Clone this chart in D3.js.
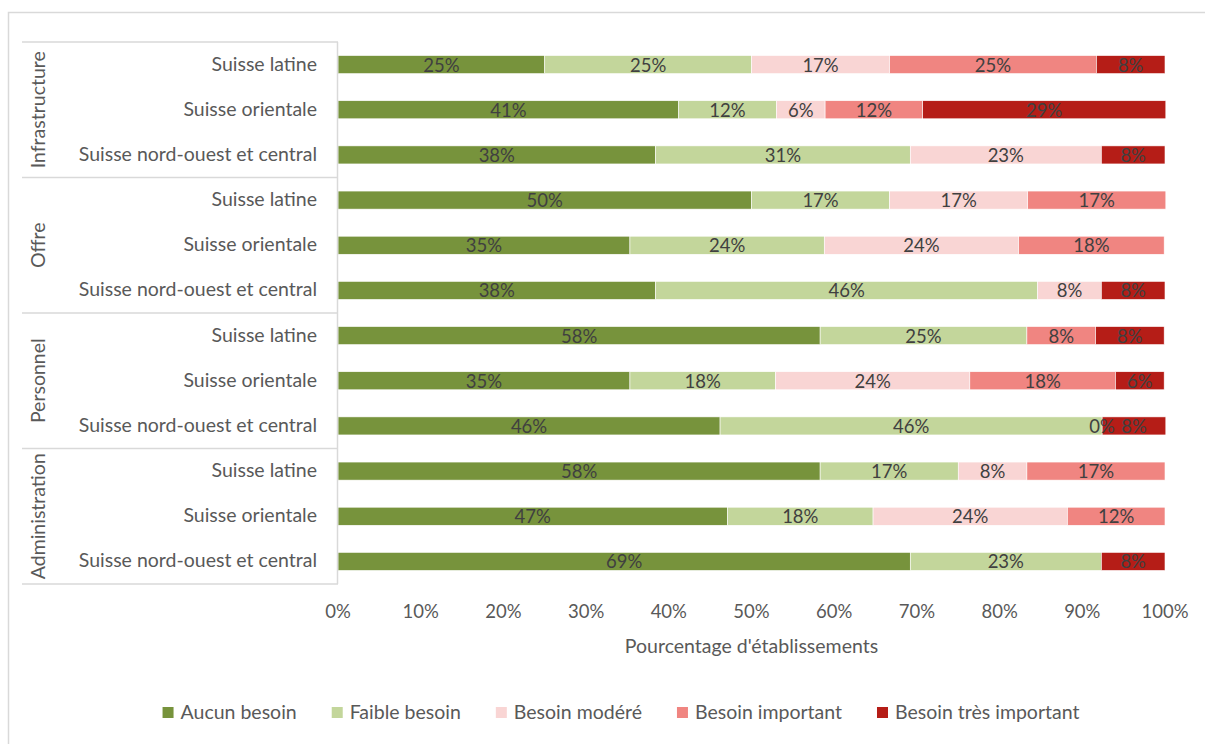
<!DOCTYPE html>
<html>
<head>
<meta charset="utf-8">
<script src="https://cdn.jsdelivr.net/npm/d3@7"></script>
<style>
  body { margin: 0; background: #fff; }
  svg { display: block; font-family: Lato, "Open Sans", sans-serif; }
</style>
</head>
<body>
<svg id="chart" width="1205" height="744"></svg>
<script>
// groups (top to bottom) and regions inside each group
var groups = ["Infrastructure", "Offre", "Personnel", "Administration"];
var regions = ["Suisse latine", "Suisse orientale", "Suisse nord-ouest et central"];
var series = ["Aucun besoin", "Faible besoin", "Besoin modéré", "Besoin important", "Besoin très important"];
var colors = ["#77933c", "#c3d69b", "#f9d5d4", "#f08581", "#b51d17"];

// percentages per row, one array per series (row order: group x region)
var aucun     = [25.0, 41.2, 38.4, 50.0, 35.3, 38.4, 58.3, 35.3, 46.2, 58.3, 47.1, 69.2];
var faible    = [25.0, 11.8, 30.8, 16.7, 23.5, 46.2, 25.0, 17.6, 46.2, 16.7, 17.6, 23.1];
var modere    = [16.7,  5.9, 23.1, 16.7, 23.5,  7.7, null, 23.5,  0.0,  8.3, 23.5, null];
var important = [25.0, 11.8, null, 16.7, 17.6, null,  8.3, 17.6, null, 16.7, 11.8, null];
var tresImp   = [ 8.3, 29.4,  7.7, null, null,  7.7,  8.3,  5.9,  7.7, null, null,  7.7];
var xTicks = [0, 10, 20, 30, 40, 50, 60, 70, 80, 90, 100];

var seriesValues = [aucun, faible, modere, important, tresImp];

var rows = [];
groups.forEach(function (g, gi) {
  regions.forEach(function (r, ri) {
    rows.push({ id: gi * 3 + ri, group: g, region: r });
  });
});

var svg = d3.select("#chart");
var textCol = "#595959";
var labelCol = "#404040";
var lineCol = "#d9d9d9";

// chart area border
svg.append("rect")
  .attr("x", 8.5).attr("y", 12.5)
  .attr("width", 1210).attr("height", 760)
  .attr("fill", "none").attr("stroke", lineCol).attr("stroke-width", 1.5);

var padding = { top: 42, left: 338, right: 40, bottom: 160 };
var plotW = 1165 - padding.left;
var plotH = 584 - padding.top;

var x = d3.scaleLinear().domain([0, 100]).range([padding.left, padding.left + plotW]);
var y = d3.scaleBand()
  .domain(rows.map(function (d) { return d.id; }))
  .range([padding.top, padding.top + plotH])
  .paddingInner(0.6).paddingOuter(0.3);

// stacked segments
var segs = [];
rows.forEach(function (row) {
  var acc = 0;
  seriesValues.forEach(function (vals, si) {
    var v = vals[row.id];
    if (v !== null) {
      segs.push({ row: row.id, s: si, x0: acc, x1: acc + v, v: v });
      acc += v;
    }
  });
});

svg.append("g")
  .selectAll("rect.seg")
  .data(segs.filter(function (d) { return d.v > 0; }))
  .enter()
  .append("rect")
  .attr("class", "seg")
  .attr("x", function (d) { return x(d.x0); })
  .attr("width", function (d) { return x(d.x1) - x(d.x0); })
  .attr("y", function (d) { return y(d.row); })
  .attr("height", y.bandwidth())
  .attr("fill", function (d) { return colors[d.s]; })
  .attr("stroke", "#fff")
  .attr("stroke-width", 0.6);

// data labels
svg.append("g")
  .selectAll("text")
  .data(segs)
  .enter()
  .append("text")
  .attr("x", function (d) { return (x(d.x0) + x(d.x1)) / 2; })
  .attr("y", function (d) { return y(d.row) + y.bandwidth() / 2 + 7; })
  .attr("text-anchor", "middle")
  .style("font-size", "18.5px")
  .style("fill", labelCol)
  .text(function (d) { return Math.round(d.v) + "%"; });

// category axis: vertical line + group separators
var catLeft = 22;
svg.append("line")
  .attr("x1", padding.left - 0.5).attr("x2", padding.left - 0.5)
  .attr("y1", padding.top).attr("y2", padding.top + plotH)
  .attr("stroke", lineCol).attr("stroke-width", 1.5);

var step = plotH / groups.length;
d3.range(groups.length + 1).forEach(function (i) {
  var yy = padding.top + i * step;
  svg.append("line")
    .attr("x1", catLeft).attr("x2", padding.left)
    .attr("y1", yy).attr("y2", yy)
    .attr("stroke", lineCol).attr("stroke-width", 1.5);
});

// region labels
svg.append("g")
  .selectAll("text")
  .data(rows)
  .enter()
  .append("text")
  .attr("x", 317)
  .attr("y", function (d) { return y(d.id) + y.bandwidth() / 2 + 6; })
  .attr("text-anchor", "end")
  .style("font-size", "19.5px")
  .style("fill", textCol)
  .text(function (d) { return d.region; });

// group labels (rotated)
groups.forEach(function (g, i) {
  var cy = padding.top + (i + 0.5) * step;
  svg.append("text")
    .attr("transform", "translate(45," + cy + ") rotate(-90)")
    .attr("text-anchor", "middle")
    .style("font-size", "19.5px")
    .style("fill", textCol)
    .text(g);
});

// x axis tick labels
svg.append("g")
  .selectAll("text")
  .data(xTicks)
  .enter()
  .append("text")
  .attr("x", function (d) { return x(d); })
  .attr("y", 618)
  .attr("text-anchor", "middle")
  .style("font-size", "18.5px")
  .style("fill", textCol)
  .text(function (d) { return d + "%"; });

svg.append("text")
  .attr("x", padding.left + plotW / 2)
  .attr("y", 653)
  .attr("text-anchor", "middle")
  .style("font-size", "19.5px")
  .style("fill", textCol)
  .text("Pourcentage d'établissements");

// legend
var legend = svg.append("g");
var lx = 0;
var items = legend.selectAll("g.item")
  .data(series)
  .enter()
  .append("g")
  .attr("class", "item");
items.append("rect")
  .attr("width", 11).attr("height", 11)
  .attr("y", -12)
  .attr("fill", function (d, i) { return colors[i]; });
items.append("text")
  .attr("x", 18)
  .attr("y", 0)
  .style("font-size", "19.5px")
  .style("fill", textCol)
  .text(function (d) { return d; });
items.each(function () {
  var w = this.getBBox().width;
  d3.select(this).attr("transform", "translate(" + lx + ",0)");
  lx += w + 35;
});
var totalW = lx - 35;
legend.attr("transform", "translate(" + (621 - totalW / 2) + ",719)");
</script>
</body>
</html>
